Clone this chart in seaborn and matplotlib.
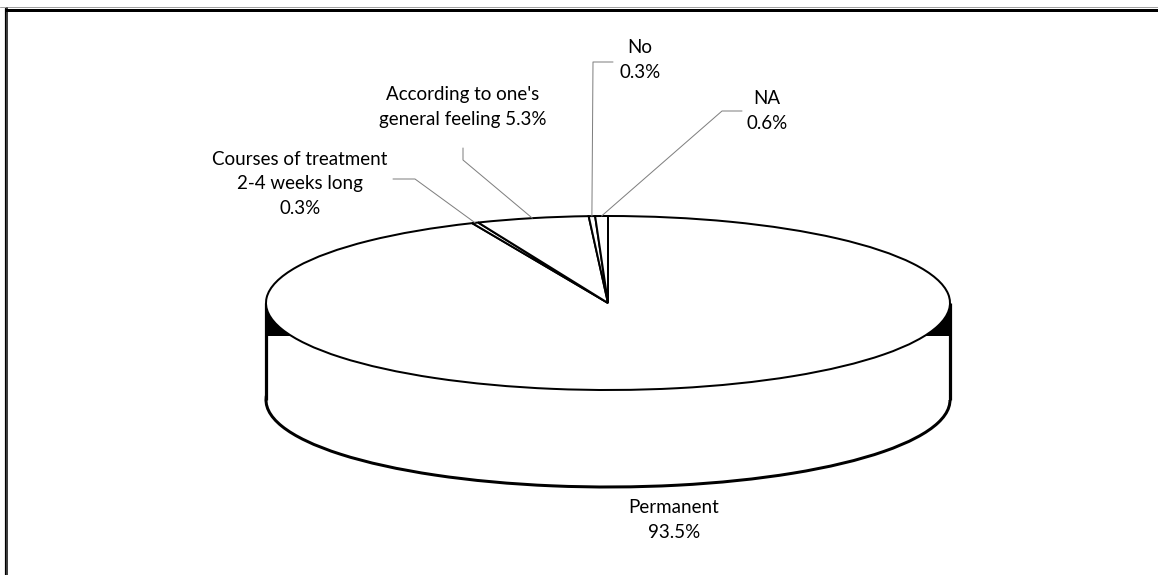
import numpy as np
import matplotlib.pyplot as plt
from matplotlib.lines import Line2D
import seaborn as sns

# data
categories = ["Permanent", "Courses of treatment\n2-4 weeks long",
              "According to one's\ngeneral feeling", "No", "NA"]
shares = [93.5, 0.3, 5.3, 0.3, 0.6]
label_joins = ["\n", "\n", " ", "\n", "\n"]

# label placement (pixels from top-left) and leader line elbows
label_pos = [(674, 520), (300, 184), (463, 107), (640, 60), (767, 111)]
leader_pts = [None, [(415, 179), (393, 179)], [(463, 160), (463, 148)],
              [(593, 62), (613, 62)], [(722, 111), (742, 111)]]

sns.set_theme(style="white")
plt.rcParams["font.family"] = ["Lato", "DejaVu Sans"]

W, H = 1158, 575
CX, CY, RX, RY, DEPTH = 608, 303, 342, 87, 97
PX = 72 / 100  # one pixel in points


def to_data(x, y):
    return (x - CX) / RX, (CY - y) / RY


fig = plt.figure(figsize=(W / 100, H / 100), dpi=100)
ax = fig.add_axes([0, 0, 1, 1])
d = DEPTH / RY

# bottom rim of the disc
bottom, _ = ax.pie(shares, startangle=90, counterclock=False, center=(0, -d), radius=1,
                   wedgeprops=dict(facecolor="white", edgecolor="black", linewidth=3 * PX,
                                   joinstyle="round"),
                   frame=False)
for w in bottom:
    w.set_zorder(1)

# side wall
ax.fill_between([-1, 1], -d, 0, color="white", lw=0, zorder=2)
ax.fill_between([-0.8, 0.8], -d - 0.2, -d + 0.1, color="white", lw=0, zorder=2)
ax.vlines([-1, 1], -d, 0, color="black", lw=3.2 * PX, zorder=3)
xs = np.linspace(-1, 1, 2001)
lower = -np.sqrt(1 - xs ** 2)
level = -33 / RY
ax.fill_between(xs, level, lower, where=lower > level, interpolate=True,
                color="black", lw=0, zorder=3)

# top face
top, _ = ax.pie(shares, startangle=90, counterclock=False, radius=1,
                wedgeprops=dict(facecolor="white", edgecolor="black", linewidth=2 * PX),
                frame=False)
for w in top:
    w.set_zorder(4)

for i, w in enumerate(top):
    txt = categories[i] + label_joins[i] + f"{shares[i]:.1f}%"
    lx, ly = to_data(*label_pos[i])
    ax.text(lx, ly, txt, ha="center", va="center", multialignment="center",
            fontsize=13.5, color="black", linespacing=1.55, zorder=6)
    if leader_pts[i] is None:
        continue
    mid = np.deg2rad((w.theta1 + w.theta2) / 2)
    xs_l = [np.cos(mid)] + [to_data(*p)[0] for p in leader_pts[i]]
    ys_l = [np.sin(mid)] + [to_data(*p)[1] for p in leader_pts[i]]
    ax.plot(xs_l, ys_l, color="#7f7f7f", lw=1 * PX, zorder=5)

ax.set_aspect("auto")
ax.set_xlim(to_data(0, 0)[0], to_data(W, 0)[0])
ax.set_ylim(to_data(0, H)[1], to_data(0, 0)[1])
ax.set_axis_off()

# frame edges
fig.add_artist(Line2D([0, 1], [1 - 7 / H] * 2, color="#a0a0a0", lw=1 * PX))
fig.add_artist(Line2D([5.5 / W, 1], [1 - 9.5 / H] * 2, color="black", lw=3 * PX))
fig.add_artist(Line2D([5 / W] * 2, [0, 1 - 8 / H], color="black", lw=1.2 * PX))
fig.add_artist(Line2D([7.5 / W] * 2, [0, 1 - 8 / H], color="black", lw=1.5 * PX))

fig.savefig("out.png", dpi=100)
